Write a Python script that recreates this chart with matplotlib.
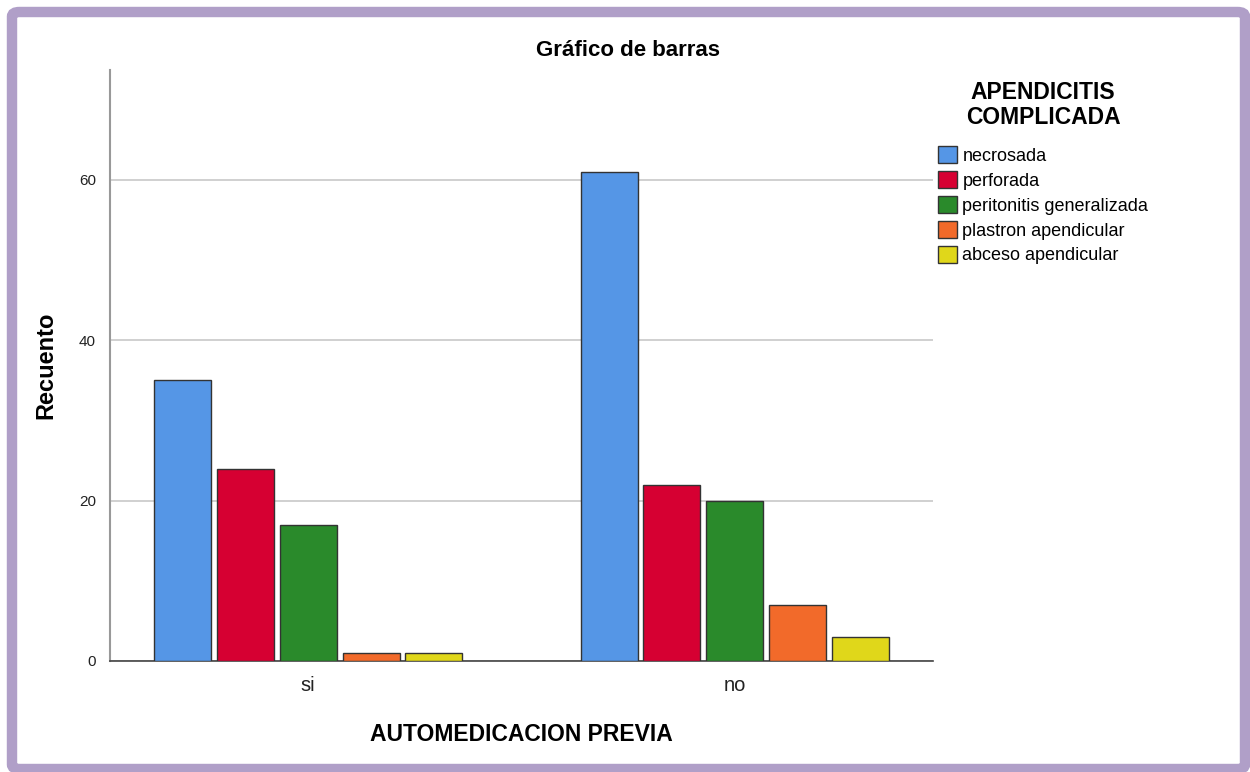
import matplotlib
matplotlib.use("Agg")
import matplotlib.pyplot as plt
import numpy as np
from matplotlib.patches import FancyBboxPatch

plt.rcParams['font.family'] = ['Liberation Sans', 'DejaVu Sans']

groups = ["si", "no"]
series = ["necrosada", "perforada", "peritonitis generalizada",
          "plastron apendicular", "abceso apendicular"]
counts = {
    "necrosada": [35, 61],
    "perforada": [24, 22],
    "peritonitis generalizada": [17, 20],
    "plastron apendicular": [1, 7],
    "abceso apendicular": [1, 3],
}
colors = ["#5596e6", "#d60032", "#2a8a2b", "#f26a2a", "#e0d71a"]

fig = plt.figure(figsize=(12.5, 7.72), dpi=100)
ax = fig.add_axes([0.088, 0.1438, 0.6584, 0.7655])

x = np.arange(len(groups))
pitch = 0.1475
width = 0.1335
for i, s in enumerate(series):
    off = (i - 2) * pitch
    ax.bar(x + off, counts[s], width, color=colors[i], edgecolor="#333333",
           linewidth=1.0, label=s, zorder=3)

ax.set_xlim(-0.464, 1.464)
ax.set_ylim(0, 73.7)
ax.set_yticks([0, 20, 40, 60])
ax.set_xticks(x)
ax.set_xticklabels(groups, fontsize=14.5, color="#222222")
ax.tick_params(axis="both", length=0)
ax.tick_params(axis="y", labelsize=11, pad=10, colors="#222222")
ax.tick_params(axis="x", pad=11)
ax.grid(axis="y", color="#c8c8c8", linewidth=1.2, zorder=0)

for side in ["top", "right"]:
    ax.spines[side].set_visible(False)
ax.spines["left"].set_color("#999999")
ax.spines["left"].set_linewidth(1.5)
ax.spines["bottom"].set_color("#444444")
ax.spines["bottom"].set_linewidth(1.2)

fig.text(628 / 1250, 1 - 50 / 772, "Gráfico de barras", fontsize=16,
         fontweight="bold", ha="center", va="center")
ax.set_ylabel("Recuento", fontsize=17, fontweight="bold", labelpad=16)
ax.set_xlabel("AUTOMEDICACION PREVIA", fontsize=16.5, fontweight="bold", labelpad=20)

# legend title as separate text so its spacing can match
fig.text(1043 / 1250, 1 - 105 / 772, "APENDICITIS\nCOMPLICADA", fontsize=16.5,
         fontweight="bold", ha="center", va="center", multialignment="center",
         linespacing=1.1)
leg = ax.legend(loc="upper left", bbox_to_anchor=(0.993, 0.889),
                frameon=False, fontsize=13,
                handlelength=1.05, handleheight=1.05, handletextpad=0.3,
                labelspacing=0.35, borderaxespad=0.2)

border = FancyBboxPatch((12 / 1250, 3 / 772), 1233 / 1250, 757 / 772,
                        boxstyle="round,pad=0,rounding_size=0.006",
                        transform=fig.transFigure, facecolor="none",
                        edgecolor="#b09fc8", linewidth=7.5, zorder=10)
fig.patches.append(border)

fig.savefig("out.png", dpi=100)
